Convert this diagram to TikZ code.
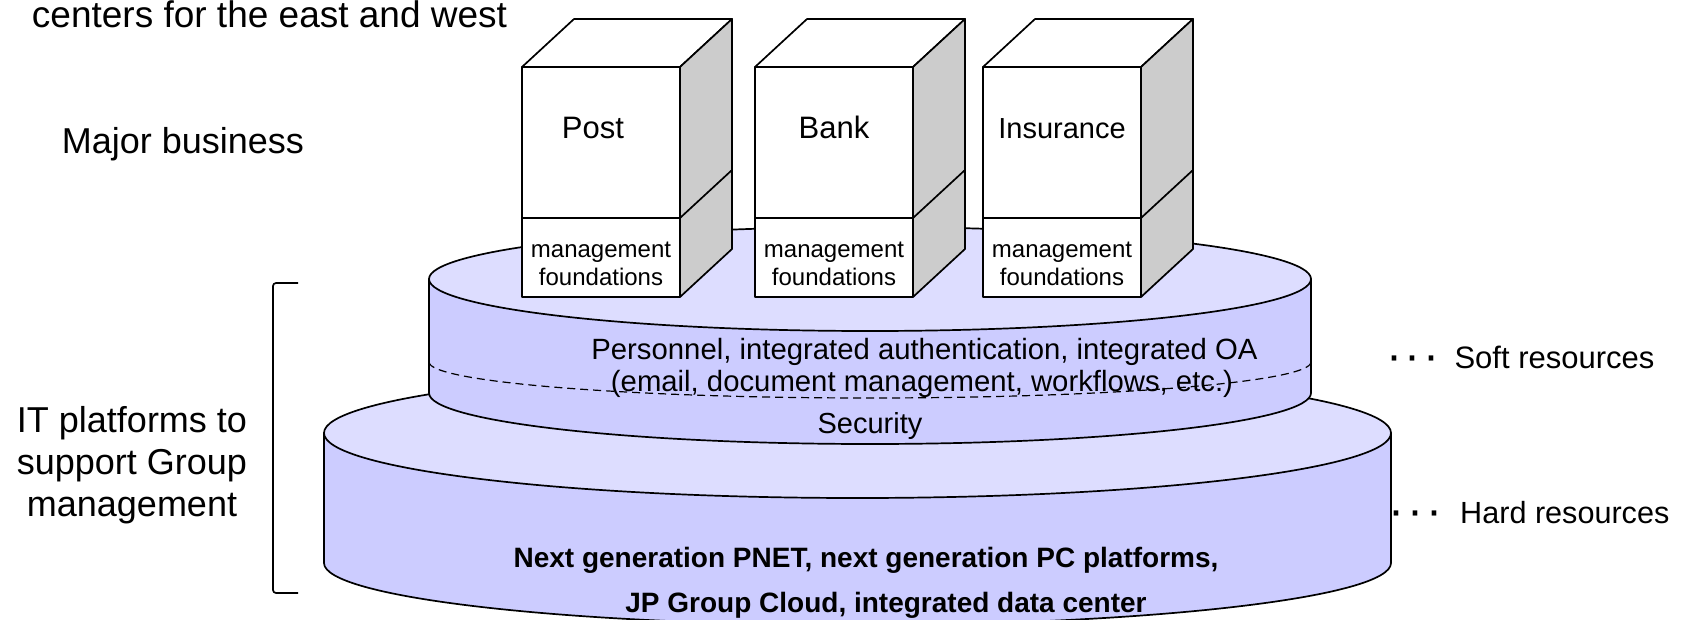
\documentclass[tikz,border=0pt]{standalone}
\usepackage{fontspec}
\setmainfont{Liberation Sans}
\newcommand\fsz[1]{\fontsize{#1}{#1}\selectfont}
\newcommand\bigdots{{\fsz{48}\raisebox{-3pt}{·\kern2.7pt·\kern2.7pt·}}}
\definecolor{topc}{HTML}{DDDDFF}
\definecolor{sidec}{HTML}{CCCCFF}
\definecolor{boxside}{HTML}{CCCCCC}
\begin{document}
\begin{tikzpicture}[x=1pt,y=-1pt,line width=1.7pt,line join=round,
  lbl/.style={inner sep=0pt,anchor=base},
  lblw/.style={inner sep=0pt,anchor=base west},
  cyl/.style={fill=sidec,draw=black},
  cyltop/.style={fill=topc,draw=black},
  boxface/.style={fill=white,draw=black},
  boxsideface/.style={fill=boxside,draw=black}]
\useasboundingbox (0,0) rectangle (1682,619);
% lower cylinder (hard resources)
\path[cyl] (324,433) -- (324,563) arc[start angle=180,end angle=360,x radius=533.5pt,y radius=62pt] -- (1391,433) -- cycle;
\path[cyltop] (857.5,433) ellipse[x radius=533.5pt,y radius=65pt];
% upper cylinder (soft resources)
\path[cyl] (429,279) -- (429,393) arc[start angle=180,end angle=360,x radius=441pt,y radius=51pt] -- (1311,279) -- cycle;
\path[cyltop] (870,279) ellipse[x radius=441pt,y radius=52pt];
\draw[line width=1.2pt,dash pattern=on 8pt off 5pt] (429,362) arc[start angle=180,end angle=360,x radius=441pt,y radius=36pt];
% business boxes
\foreach \x/\nm/\t/\tx/\s in {522/post/Post/593/31,755/bank/Bank/834/31,983/ins/Insurance/1062/29}{
  \path[boxface] (\x,67) -- ({\x+52},19) -- ({\x+210},19) -- ({\x+158},67) -- cycle;
  \path[boxsideface] ({\x+158},67) -- ({\x+210},19) -- ({\x+210},249) -- ({\x+158},297) -- cycle;
  \path[boxface] (\x,67) rectangle ({\x+158},297);
  \draw (\x,218) -- ({\x+158},218) -- ({\x+210},170);
  \node[lbl,font=\fsz{\s}] (\nm) at (\tx,138) {\t};
  \node[lbl,font=\fsz{24}] (\nm-m1) at ({\x+79},257) {management};
  \node[lbl,font=\fsz{24}] (\nm-m2) at ({\x+79},285) {foundations};
}
% texts on the cylinders
\node[lbl,font=\fsz{29.3}] (soft1) at (924.5,359) {Personnel, integrated authentication, integrated OA};
\node[lbl,font=\fsz{29.3}] (soft2) at (922,391) {(email, document management, workflows, etc.)};
\node[lbl,font=\fsz{29}] (sec) at (870,433) {Security};
\node[lbl,font=\fsz{28}\bfseries] (hard1) at (866,567) {Next generation PNET, next generation PC platforms,};
\node[lbl,font=\fsz{28}\bfseries] (hard2) at (886,612) {JP Group Cloud, integrated data center};
% left texts
\node[lbl,font=\fsz{37}] (centers) at (269.5,27) {centers for the east and west};
\node[lbl,font=\fsz{36}] (major) at (183,153) {Major business};
\node[lbl,font=\fsz{36}] (it1) at (132,432) {IT platforms to};
\node[lbl,font=\fsz{36}] (it2) at (132,474) {support Group};
\node[lbl,font=\fsz{36}] (it3) at (132,516) {management};
\coordinate (bt) at (298,283);
\coordinate (bb) at (298,593);
\draw[rounded corners=3pt] (bt) -- (273,283) -- (273,593) -- (bb);
% right texts
\node[lblw,font=\fsz{31}] (softlbl) at (1385.3,368) {\bigdots\kern15pt Soft resources};
\node[lblw,font=\fsz{30.6}] (hardlbl) at (1388,523) {\bigdots\kern18pt Hard resources};
\end{tikzpicture}
\end{document}
